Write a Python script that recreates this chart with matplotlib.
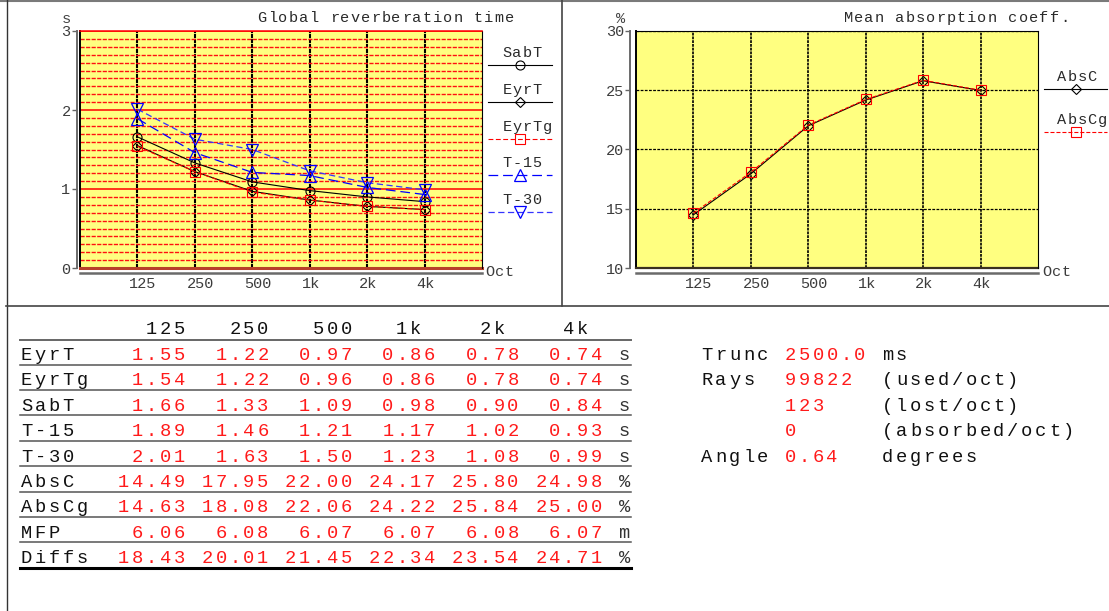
import matplotlib
matplotlib.use('Agg')
import matplotlib.pyplot as plt
from matplotlib.ticker import MultipleLocator
from matplotlib.transforms import ScaledTranslation

plt.rcParams['lines.scale_dashes'] = False
MONO = 'Liberation Mono'

# ---------------- data ----------------
bands = ['125', '250', '500', '1k', '2k', '4k']
eyrt = [1.55, 1.22, 0.97, 0.86, 0.78, 0.74]
eyrtg = [1.54, 1.22, 0.96, 0.86, 0.78, 0.74]
sabt = [1.66, 1.33, 1.09, 0.98, 0.90, 0.84]
t15 = [1.89, 1.46, 1.21, 1.17, 1.02, 0.93]
t30 = [2.01, 1.63, 1.50, 1.23, 1.08, 0.99]
absc = [14.49, 17.95, 22.00, 24.17, 25.80, 24.98]
abscg = [14.63, 18.08, 22.06, 24.22, 25.84, 25.00]
mfp = [6.06, 6.08, 6.07, 6.07, 6.08, 6.07]
diffs = [18.43, 20.01, 21.45, 22.34, 23.54, 24.71]
table_names = ['EyrT', 'EyrTg', 'SabT', 'T-15', 'T-30', 'AbsC', 'AbsCg', 'MFP', 'Diffs']
table_units = ['s', 's', 's', 's', 's', '%', '%', 'm', '%']
trunc_ms = 2500.0
rays_used = 99822
rays_lost = 123
rays_absorbed = 0
angle_deg = 0.64

# ---------------- figure ----------------
W, H = 1109, 611
fig = plt.figure(figsize=(W / 100, H / 100), dpi=100)
fig.patch.set_facecolor('white')


def px_rect(x0, y0, x1, y1):
    return [x0 / W, 1 - y1 / H, (x1 - x0) / W, (y1 - y0) / H]


ov = fig.add_axes([0, 0, 1, 1], zorder=5)
ov.set_xlim(0, W)
ov.set_ylim(H, 0)
ov.axis('off')


def mono(x, y, s, adv, size, color, align='left'):
    if align == 'right':
        x -= len(s) * adv
    for i, ch in enumerate(s):
        if ch != ' ':
            ov.text(x + (i + 0.5) * adv, y, ch, ha='center', va='baseline',
                    fontsize=size, color=color, family=MONO)


# frame lines
ov.plot([0, W], [0.8, 0.8], color='#7a7a7a', lw=1.5, solid_capstyle='butt')
ov.plot([6.5, 6.5], [0, H], color='#333333', lw=1.0)
ov.plot([6, W], [305.5, 305.5], color='#444444', lw=1.2)
ov.plot([561.5, 561.5], [0, 305.5], color='#444444', lw=1.2)

RED = '#FF0000'
YEL = '#FFFF80'
TICKC = '#3c3c3c'
TICKFS = 11

styles = {
    'SabT': dict(color='black', lw=0.8, ls='-', marker='o', ms=6.5, mfc='none', mec='black', mew=0.8),
    'EyrT': dict(color='black', lw=0.8, ls='-', marker='D', ms=5.0, mfc='none', mec='black', mew=0.8),
    'EyrTg': dict(color=RED, lw=0.8, ls=(0, (3.5, 1.8)), marker='s', ms=7, mfc='none', mec=RED, mew=0.8),
    'T-15': dict(color='#0000FF', lw=0.9, ls=(0, (7, 3.5)), marker='^', ms=8, mfc='none', mec='#0000FF', mew=0.9),
    'T-30': dict(color='#3434FF', lw=0.9, ls=(0, (4.5, 2.5)), marker='v', ms=8, mfc='none', mec='#0000FF', mew=0.9),
    'AbsC': dict(color='black', lw=0.8, ls='-', marker='D', ms=5.0, mfc='none', mec='black', mew=0.8),
    'AbsCg': dict(color=RED, lw=0.8, ls=(0, (2.9, 1.4)), marker='s', ms=7, mfc='none', mec=RED, mew=0.8),
}


def setup_axes(ax, ylo, yhi, yticks, left_off, bottom_off):
    ax.set_facecolor(YEL)
    ax.set_xlim(0, 7)
    ax.set_ylim(ylo, yhi)
    xs = list(range(1, len(bands) + 1))
    ax.set_xticks(xs)
    ax.set_xticklabels(bands)
    ax.set_yticks(yticks)
    ax.set_yticklabels([str(v) for v in yticks])
    ax.set_axisbelow(True)
    ax.tick_params(axis='x', length=0, pad=2.6, labelsize=TICKFS, labelcolor=TICKC,
                   labelfontfamily=MONO)
    ax.tick_params(axis='y', which='major', length=3.6, width=1.0, color='#666666', pad=0.8,
                   labelsize=TICKFS, labelcolor=TICKC, direction='out', labelfontfamily=MONO)
    ax.tick_params(axis='y', which='minor', length=0)
    ax.spines['left'].set_position(('outward', left_off))
    ax.spines['left'].set_color('#6a6a6a')
    ax.spines['left'].set_linewidth(1.4)
    ax.spines['bottom'].set_position(('outward', bottom_off))
    ax.spines['bottom'].set_color('#6a6a6a')
    ax.spines['bottom'].set_linewidth(1.8)
    ax.spines['right'].set_color('black')
    ax.spines['right'].set_linewidth(0.8)
    ax.axvline(0, color='black', lw=1.4, clip_on=False, zorder=2.5)
    return xs


def shift_xlabels(ax):
    off = ScaledTranslation(-8 / 100, 0, fig.dpi_scale_trans)
    for lbl in ax.get_xticklabels():
        lbl.set_ha('left')
        lbl.set_transform(lbl.get_transform() + off)


# ---------------- left chart ----------------
axL = fig.add_axes(px_rect(80, 31, 482, 268))
xs = setup_axes(axL, 0, 3, [0, 1, 2, 3], 2.4, 3.6)
axL.yaxis.set_minor_locator(MultipleLocator(0.1))
axL.tick_params(axis='y', which='minor', length=0)
axL.grid(axis='y', which='minor', color='#FF1010', lw=1.0, ls=(0, (3, 1)))
axL.grid(axis='y', which='major', color=RED, lw=1.1, ls='-')
axL.grid(axis='x', which='major', color='black', lw=1.5, ls=(0, (3, 0.6)))
axL.spines['top'].set_color(RED)
axL.spines['top'].set_linewidth(1.1)
axL.axhline(0, color='#B8402A', lw=2.2, clip_on=False, zorder=2.5)
shift_xlabels(axL)

axL.plot(xs, sabt, **styles['SabT'])
axL.plot(xs, eyrt, **styles['EyrT'])
axL.plot(xs, eyrtg, **styles['EyrTg'])
axL.plot(xs, t15, **styles['T-15'])
axL.plot(xs, t30, **styles['T-30'])

# ---------------- right chart ----------------
axR = fig.add_axes(px_rect(636, 31, 1038, 268))
xs = setup_axes(axR, 10, 30, [10, 15, 20, 25, 30], 4.3, 3.6)
axR.grid(axis='y', which='major', color='black', lw=0.9, ls=(0, (2, 1)))
axR.grid(axis='x', which='major', color='black', lw=1.2, ls=(0, (2, 0.7)))
axR.spines['top'].set_color('black')
axR.spines['top'].set_linewidth(0.8)
axR.axhline(10, color='#3a3020', lw=1.6, clip_on=False, zorder=2.5)
shift_xlabels(axR)
axR.plot(xs, absc, **styles['AbsC'])
axR.plot(xs, abscg, **styles['AbsCg'])

# ---------------- chart texts ----------------
mono(257, 22, 'Global reverberation time', 10.3, 11, '#2a2a2a')
mono(843, 22, 'Mean absorption coeff.', 10.3, 11, '#2a2a2a')
mono(61, 23, 's', 10, 11, '#444444')
mono(616, 23, '%', 10, 11, '#444444')
mono(485, 276, 'Oct', 9.7, 11, TICKC)
mono(1042, 276, 'Oct', 9.7, 11, TICKC)


def key(name, y, x0, x1, xl):
    st = dict(styles[name])
    ov.plot([x0, x1], [y, y], color=st['color'], lw=st['lw'], ls=st['ls'])
    ov.plot([(x0 + x1) / 2], [y], ls='none', marker=st['marker'], ms=st['ms'],
            mfc='none', mec=st['mec'], mew=st['mew'])
    mono(xl, y - 8, name, 10, 11, '#2a2a2a')


for i, name in enumerate(['SabT', 'EyrT', 'EyrTg', 'T-15', 'T-30']):
    key(name, 65 + i * 36.8, 488, 552, 502)
for i, name in enumerate(['AbsC', 'AbsCg']):
    key(name, 89 + i * 43, 1044, 1107, 1057)

# ---------------- table ----------------
ADV = 13.9
TS = 13.5
X0 = 19.5
BLACK = '#111111'
VRED = '#FF1A1A'
header_base = 334
for j, b in enumerate(bands):
    end = 12 + 6 * j - (1 if b.endswith('k') else 0)
    mono(X0 + end * ADV, header_base, b, ADV, TS, BLACK, align='right')
ov.plot([20, 631], [340, 340], color='#666666', lw=1.4)

table_vals = [eyrt, eyrtg, sabt, t15, t30, absc, abscg, mfp, diffs]
for r, (name, vals, unit) in enumerate(zip(table_names, table_vals, table_units)):
    base = 360 + r * 25.4
    mono(X0, base, name, ADV, TS, BLACK)
    for j, v in enumerate(vals):
        mono(X0 + (12 + 6 * j) * ADV, base, f'{v:.2f}', ADV, TS, VRED, align='right')
    mono(X0 + 43 * ADV, base, unit, ADV, TS, '#333333')
    last = r == len(table_names) - 1
    ov.plot([20, 631], [base + 4.5, base + 4.5], color='black' if last else '#555555',
            lw=2.2 if last else 1.1)

# ---------------- info block ----------------
X1 = 700
info = [
    ('Trunc', f'{trunc_ms:.1f}', 'ms'),
    ('Rays', f'{rays_used}', '(used/oct)'),
    ('', f'{rays_lost}', '(lost/oct)'),
    ('', f'{rays_absorbed}', '(absorbed/oct)'),
    ('Angle', f'{angle_deg:.2f}', 'degrees'),
]
for r, (a, b, c) in enumerate(info):
    base = 360 + r * 25.4
    mono(X1, base, a, ADV, TS, BLACK)
    mono(X1 + 6 * ADV, base, b, ADV, TS, VRED)
    mono(X1 + 13 * ADV, base, c, ADV, TS, BLACK)

fig.savefig('out.png', dpi=100)
